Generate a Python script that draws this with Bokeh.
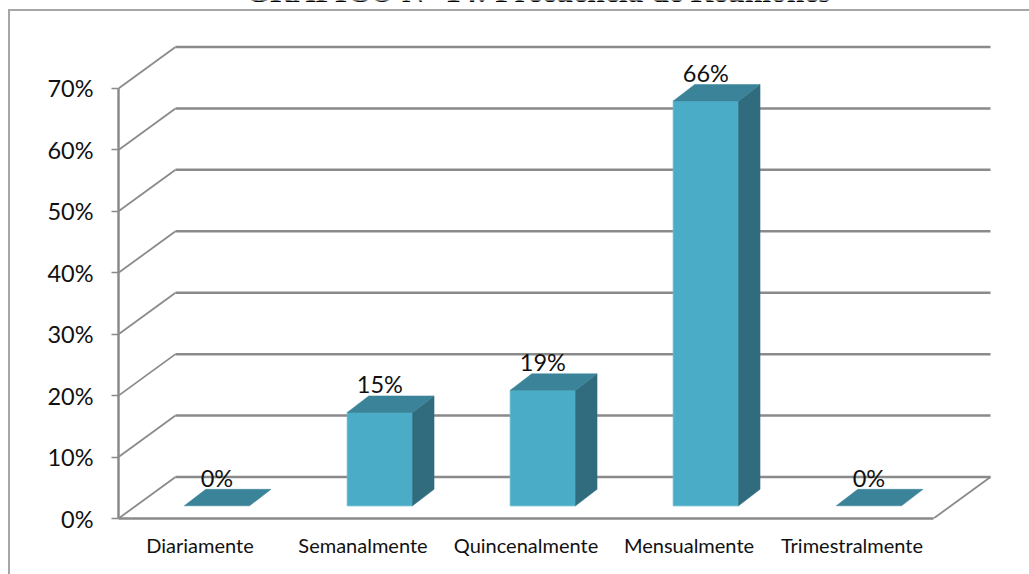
from bokeh.plotting import figure
from bokeh.embed import file_html
from bokeh.resources import INLINE
from bokeh.models import Range1d, FixedTicker, PrintfTickFormatter, Label
from bokeh.core.properties import value

categories = ["Diariamente", "Semanalmente", "Quincenalmente", "Mensualmente", "Trimestralmente"]
values = [0, 15.2, 18.8, 65.9, 0]
labels = ["0%", "15%", "19%", "66%", "0%"]
y_ticks = [0, 10, 20, 30, 40, 50, 60, 70]
title_text = "GRÁFICO N° 14: Frecuencia de Reuniones"

W, H = 1029, 574
LEFT, BASE = 118, 518
PX_X, PX_Y = 163.0, 6.143          # pixels per category / per percent
DX, DY = 57 / PX_X, 41.5 / PX_Y    # depth of the chart floor
BW = 65.3 / PX_X                   # bar width
BDX, BDY = 21.5 / PX_X, 16.5 / PX_Y  # depth of a bar
OFFX, OFFY = 16.9 / PX_X, 12.7 / PX_Y  # bar front inside the floor
n = len(categories)
top_tick = y_ticks[-1]

GRID = "#8a8a8a"
BORDER = "#a6a6a6"
FRONT, TOP, SIDE = "#4aacc6", "#3a8399", "#306c7d"

p = figure(width=W, height=H, output_backend="svg", toolbar_location=None,
           x_range=Range1d(0, (W - LEFT) / PX_X), y_range=Range1d(0, BASE / PX_Y),
           min_border_left=LEFT, min_border_right=0, min_border_top=0, min_border_bottom=H - BASE,
           outline_line_color=None, background_fill_color=None, border_fill_color=None)
p.grid.visible = False

# outer chart border: left and top edges, cut off by the picture edge
p.styles = {
    "background-image": f"linear-gradient({BORDER},{BORDER}),linear-gradient({BORDER},{BORDER})",
    "background-position": "8px 9px,8px 9px",
    "background-size": f"2px {H}px,{W}px 2px",
    "background-repeat": "no-repeat",
}

# y axis
ya = p.yaxis[0]
ya.ticker = FixedTicker(ticks=y_ticks)
ya.formatter = PrintfTickFormatter(format="%d%%")
ya.bounds = (0, top_tick)
ya.axis_line_color = GRID
ya.axis_line_width = 2.5
ya.major_tick_line_color = GRID
ya.major_tick_line_width = 1.5
ya.major_tick_out = 7
ya.major_tick_in = 0
ya.minor_tick_line_color = None
ya.major_label_standoff = 18
ya.major_label_text_font = "Lato"
ya.major_label_text_font_size = "23.5px"
ya.major_label_text_color = "#111111"

# x axis
xa = p.xaxis[0]
centers = [i + 0.5 for i in range(n)]
xa.ticker = FixedTicker(ticks=centers)
xa.major_label_overrides = {c: t for c, t in zip(centers, categories)}
xa.bounds = (0, n)
xa.axis_line_color = GRID
xa.axis_line_width = 2.5
xa.major_tick_line_color = None
xa.minor_tick_line_color = None
xa.major_label_standoff = 8
xa.major_label_text_font = "Lato"
xa.major_label_text_font_size = "20px"
xa.major_label_text_color = "#111111"

# walls: depth lines and back gridlines
p.multi_line([[0, DX] for _ in y_ticks], [[t, t + DY] for t in y_ticks],
             line_color=GRID, line_width=1.8)
p.multi_line([[DX, n + DX] for _ in y_ticks], [[t + DY, t + DY] for t in y_ticks],
             line_color=GRID, line_width=2.5)
p.line([n, n + DX], [0, DY], line_color=GRID, line_width=1.8)

# bars
fx, fy, tx, ty, sx, sy, cx, cy = [], [], [], [], [], [], [], []
for c, v in zip(centers, values):
    x0 = c + OFFX - BW / 2
    x1 = x0 + BW
    y0 = OFFY
    y1 = OFFY + v
    tx.append([x0, x1, x1 + BDX, x0 + BDX])
    ty.append([y1, y1, y1 + BDY, y1 + BDY])
    if v > 0:
        fx.append([x0, x1, x1, x0])
        fy.append([y0, y0, y1, y1])
        sx.append([x1, x1 + BDX, x1 + BDX, x1])
        sy.append([y0, y0 + BDY, y1 + BDY, y1])
    cx.append(c + OFFX)
    cy.append(y1)

p.patches(fx, fy, fill_color=FRONT, line_color="#5fb6cd", line_width=1)
p.patches(sx, sy, fill_color=SIDE, line_color=SIDE, line_width=0.5)
p.patches(tx, ty, fill_color=TOP, line_color=TOP, line_width=0.5)

p.text(cx, cy, text=labels, text_font=value("Lato"), text_font_size="23.5px",
       text_color="#111111", text_align="center", text_baseline="alphabetic", y_offset=-28)

# heading, cut off by the top of the picture
p.add_layout(Label(x=537.5, y=-9.5, x_units="canvas", y_units="canvas", text=title_text,
                   text_font="Liberation Serif", text_font_style="bold",
                   text_font_size="31.5px", text_color="#000000",
                   text_align="center", text_baseline="alphabetic"))

open("out.html", "w").write(file_html(p, INLINE))
